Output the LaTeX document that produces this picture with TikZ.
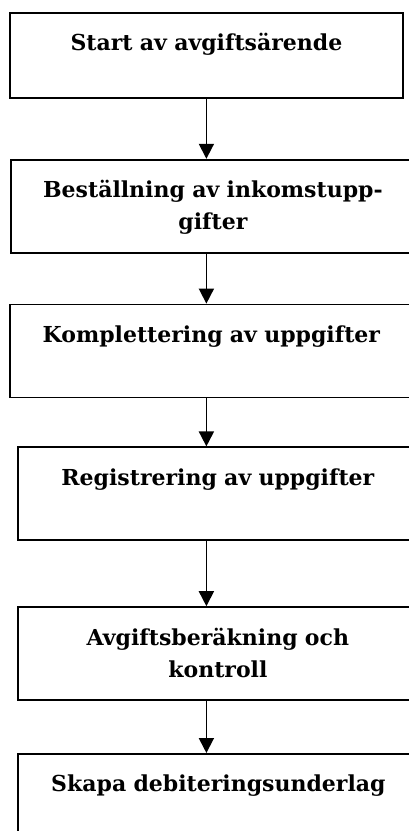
\documentclass[tikz,border=0pt]{standalone}
\usepackage{fontspec}
\setmainfont{DejaVu Serif}
\usetikzlibrary{positioning, arrows.meta}

\begin{document}
\begin{tikzpicture}[
	x=1pt, y=1pt,
	font=\bfseries\fontsize{22}{32}\selectfont,
	% Define styles
	stepbox/.style={rectangle, draw=black, line width=1.8pt, inner sep=0pt, align=center, text height=38pt, anchor=north west},
	arrow/.style={-{Triangle[width=15pt, length=15pt]}, line width=1.8pt, black}
	]
	\useasboundingbox (0,0) rectangle (409,-831);
	\clip (0,0) rectangle (409,-831);
	
	% 1. Process steps
	\node[stepbox, text width=393pt, text depth=47pt] (start) at (9,-12) {Start av avgiftsärende};
	\node[stepbox, text width=404pt, text depth=55pt, below=60pt of start.south west, anchor=north west, xshift=1pt] (order) {Beställning av inkomstupp-\\gifter};
	\node[stepbox, text width=403pt, text depth=55pt, below=50pt of order.south west, anchor=north west, xshift=-1pt] (complete) {Komplettering av uppgifter};
	\node[stepbox, text width=400pt, text depth=55pt, below=48pt of complete.south west, anchor=north west, xshift=8pt] (register) {Registrering av uppgifter};
	\node[stepbox, text width=400pt, text depth=55pt, below=65pt of register.south west, anchor=north west] (calc) {Avgiftsberäkning och\\kontroll};
	\node[stepbox, text width=401pt, text depth=60pt, below=52pt of calc.south west, anchor=north west] (debit) {Skapa debiteringsunderlag};
	
	% 2. Flow arrows (all on the axis of the first box)
	\draw[arrow] (start.south) -- (start.south |- order.north);
	\draw[arrow] (order.south -| start.south) -- (start.south |- complete.north);
	\draw[arrow] (complete.south -| start.south) -- (start.south |- register.north);
	\draw[arrow] (register.south -| start.south) -- (start.south |- calc.north);
	\draw[arrow] (calc.south -| start.south) -- (start.south |- debit.north);
\end{tikzpicture}
\end{document}
